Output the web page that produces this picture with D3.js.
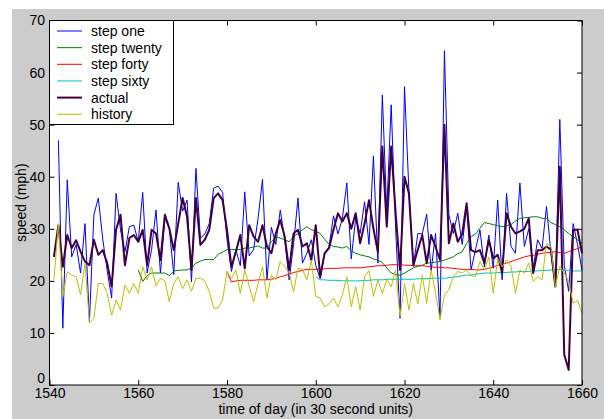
<!DOCTYPE html>
<html><head><meta charset="utf-8">
<script src="https://cdn.jsdelivr.net/npm/d3@7"></script>
<style>body{margin:0;background:#fff} text{font-family:"Liberation Sans",Arial,sans-serif}</style>
</head><body><svg id="c" width="604" height="419"></svg>
<script>
const xTicks=[1540,1560,1580,1600,1620,1640,1660];
const yTicks=[0,10,20,30,40,50,60,70];
const labels=["step one","step twenty","step forty","step sixty","actual","history"];
const starts=[1542,1560,1580,1600,1541,1541];

const stepOne=[47,10.9,39.4,24.6,27,21.5,31,12.2,32.7,
35.9,28,22,16.7,36.8,29.8,25.6,30.4,30.7,27.5,
37,21.5,26,33.6,21.5,32,30,21.2,38.9,33.4,
35.5,19.8,41.6,28.2,29,31,37.8,38.2,37,27.9,
21.8,26,22.9,37.1,24.8,26,32,39.5,20.2,30.3,
27,33.6,27.9,20.2,27,35.9,23.4,25.3,27.9,23,
20.4,25.3,26.6,32.5,29,32,38.8,24.2,32,29.1,
35.2,27,44,23.4,55.7,33.4,53.8,30,12.8,57.3,
37.1,22.8,29.1,29,32.8,22,29.1,12.8,64.2,32.7,
29.1,33,27,34.1,22.1,26,29.8,22.7,28.8,22.4,
35.5,20.2,36.8,26.6,25.3,38.8,26.6,30,22.4,27.9,
26.2,34.3,25.3,18.9,51,23,18,31,27,22];

const stepTwenty=[22.1,19.9,21,21.5,21.5,21.5,21.5,21,21.9,22,
22.1,22.1,22.5,23.4,23.8,24.1,24.1,24.1,25.1,25.5,
26,26,26,26,26.3,26.3,26.5,26.7,26.3,26.3,
27.5,28.5,28.2,27.9,27.5,28.5,29.1,29.8,30.4,29.8,
29.5,29.1,28,27,26.6,26.5,26.3,26.6,25.8,25.3,
25,24.8,24.6,24.2,24,23.5,22.5,21.5,21.2,21.1,
21.5,22,22.5,22.8,23,23.4,23.5,23.6,23.7,24,
24.3,24.6,25.2,25.6,27.2,28.5,29,30.1,31.2,31,
30.8,30.6,30.4,30.6,30.8,31.5,32,32.1,32.2,32.3,
32.3,32,32,31.2,30.8,30.4,29.8,29.1,28.5,27.9,27.2];

const stepForty=[21.8,19.8,20,20.1,20.1,20.1,20.1,20.2,20.2,20.2,
20.3,20.5,20.8,21,21.3,21.6,21.8,22,22.2,22.2,
22.2,22.3,22.3,22.4,22.4,22.4,22.5,22.5,22.5,22.5,
22.5,22.6,22.7,22.8,22.9,22.9,23,23.1,23.1,23.1,
23,23,22.9,22.9,22.9,22.8,22.7,22.6,22.6,22.5,
22.5,22.4,22.3,22.2,22.2,22.2,22.1,22.1,22.2,22.4,
22.7,23,23.2,23.4,23.7,24,24.3,24.6,24.8,24.9,
25.1,25.3,25.4,25.5,25.6,25.4,25.3,25.6,25.9,26.2,26.5];

const stepSixty=[20.8,20.2,20.2,20.1,20.1,20.1,20,20,20,20,
20,20.1,20.1,20.2,20.2,20.2,20.3,20.3,20.3,20.3,
20.3,20.3,20.3,20.4,20.4,20.4,20.5,20.5,20.5,20.5,
20.6,20.7,20.8,21,21.1,21.1,21.3,21.4,21.5,21.5,
21.5,21.6,21.6,21.6,21.7,21.7,21.8,21.8,21.8,21.9,
21.9,22,22,22.1,22.1,22.2,22.1,22,21.9,21.9,21.9];

const actual=[24.6,30.7,22.7,28.8,26.3,27.8,25.6,23.7,23,27.9,
25,25.9,23.4,18.9,29.8,32.7,23,28.2,28.8,27.5,
29.8,23,29.8,29.1,24,32.7,30.1,25.9,31,35.9,
32.3,22.1,35.9,26.9,27.9,29.8,35.9,36.8,35.5,29.8,
22.7,25.6,28.8,22.4,30.7,28.5,27.5,30.7,26.6,25.3,
29.1,31.7,28.5,22.1,29.1,29.8,26.6,27.2,24,30.7,
20.8,25.3,26.3,29.8,33,31.4,33,30,33,27.2,
31,35.5,30,25.6,45.8,30.4,45.8,33,22.1,40,
36.8,23,26,28.8,23.4,28.8,26.5,24,50,27.2,
31,27.5,29,34.9,25.9,25.5,25.9,23.4,27.9,24.3,
25,21.5,33,30.4,29.1,29.5,30,32,21.5,25.9,
25.9,26.6,26,18.9,41.9,5.8,2.9,29.8,29.8,25.3];

const history=[20.2,31,17,21.8,21.1,20.8,17.3,23.4,11.9,12.8,
19.5,19.5,17.6,13.4,16.3,14.4,19.2,17.6,19.5,17.6,
22.7,20.2,22.7,19,20.5,20,16,19.5,20.8,18.5,
20.2,18,20.5,20.5,20,17.9,14.7,14.8,16.3,21.8,
20.5,22.1,17.6,22.1,19,16,19.5,22.7,16.7,21.1,
20.2,23.7,22.8,21.5,17.9,22.4,22.2,20.2,24,17,
16.7,15,15.6,16.7,15,17.3,20.8,15,18.9,14.4,
20.8,22,17,20.2,17.6,20.2,18.9,22.1,13.1,19.5,
14.4,19.5,15.6,21.1,15.7,22.1,17.6,12.5,17.3,18.3,
20.8,21.8,21.5,22.1,21,20.8,23.7,22.1,24.6,17.6,
24.3,22.7,24,22.8,17.6,22.1,21.5,23.4,19.9,20.8,
20.2,27.2,26.6,18.9,22.8,21.5,19.9,15.7,16.2,13.8];

const seriesValues=[stepOne,stepTwenty,stepForty,stepSixty,actual,history];
const colors=["#0000ff","#008000","#ff0000","#00bfbf","#400040","#bfbf00"];
const widths=[1,1,1,1,2,1];

const svg=d3.select("#c");
const L=49.5,R=582,T=20.5,B=385;
svg.append("rect").attr("x",12).attr("y",9).attr("width",604-12).attr("height",419-9).attr("fill","#cccccc");
svg.append("rect").attr("x",L).attr("y",T).attr("width",R-L).attr("height",B-T).attr("fill","#fff");

const x=d3.scaleLinear().domain([1540,1660]).range([L,R]);
const y=d3.scaleLinear().domain([0,70]).range([B,T]);

const plot=svg.append("g");
const line=d3.line().x(d=>x(d[0])).y(d=>y(d[1]));
seriesValues.forEach((vals,i)=>{
  const pts=vals.map((v,k)=>[starts[i]+k,v]);
  plot.append("path").datum(pts).attr("d",line).attr("fill","none")
    .attr("stroke",colors[i]).attr("stroke-width",widths[i]).attr("stroke-linejoin","round");
});

function styleAxis(g,showText){
  g.select(".domain").remove();
  g.selectAll("line").attr("stroke","#000");
  g.selectAll("text").attr("fill","#000").style("font-size","14px");
  if(!showText) g.selectAll("text").remove();
}
svg.append("g").attr("transform",`translate(0,${B})`)
  .call(d3.axisBottom(x).tickValues(xTicks).tickSizeInner(-5).tickSizeOuter(0).tickPadding(3.5).tickFormat(d3.format("d")))
  .call(g=>styleAxis(g,true));
svg.append("g").attr("transform",`translate(0,${T})`)
  .call(d3.axisTop(x).tickValues(xTicks).tickSizeInner(-5).tickSizeOuter(0))
  .call(g=>styleAxis(g,false));
svg.append("g").attr("transform",`translate(${L},0)`)
  .call(d3.axisLeft(y).tickValues(yTicks).tickSizeInner(-5).tickSizeOuter(0).tickPadding(4.5))
  .call(g=>styleAxis(g,true))
  .call(g=>g.selectAll(".tick").filter(d=>d===0).select("text").attr("dy","-0.2em"));
svg.append("g").attr("transform",`translate(${R},0)`)
  .call(d3.axisRight(y).tickValues(yTicks).tickSizeInner(-5).tickSizeOuter(0))
  .call(g=>styleAxis(g,false));

svg.append("rect").attr("x",L).attr("y",T).attr("width",R-L).attr("height",B-T)
  .attr("fill","none").attr("stroke","#000").attr("stroke-width",1);

// legend
const lg=svg.append("g");
lg.append("rect").attr("x",L).attr("y",T).attr("width",173.5-L).attr("height",124.5-T)
  .attr("fill","#fff").attr("stroke","#000").attr("stroke-width",1);
labels.forEach((lab,i)=>{
  const yy=31+i*16.65;
  lg.append("line").attr("x1",57).attr("x2",82).attr("y1",yy).attr("y2",yy)
    .attr("stroke",colors[i]).attr("stroke-width",widths[i]);
  lg.append("text").attr("x",91).attr("y",yy+5).text(lab).style("font-size","14px").attr("fill","#000");
});

svg.append("text").attr("x",(L+R)/2).attr("y",414).attr("text-anchor","middle")
  .style("font-size","14px").text("time of day (in 30 second units)");
svg.append("text").attr("transform",`translate(26,${(T+B)/2}) rotate(-90)`).attr("text-anchor","middle")
  .style("font-size","14px").text("speed (mph)");
</script></body></html>
